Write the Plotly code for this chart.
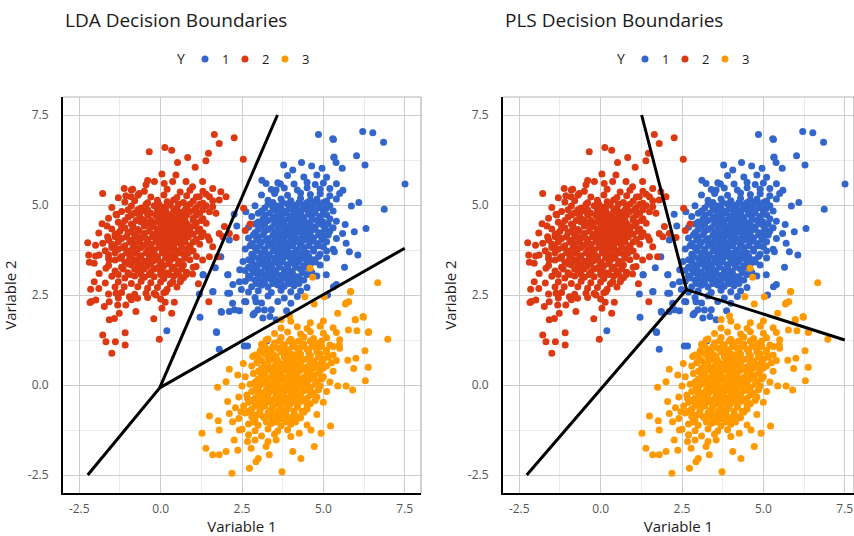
import plotly.graph_objects as go

# ---- observations: (Variable 1, Variable 2) for each class of Y ----
class1_pts = [
    (4.85, 6.96), (5.31, 6.82), (6.21, 7.04), (6.52, 7.01), (6.85, 6.74), (6.02, 6.37), (6.28, 6.11),
    (5.32, 6.32), (5.39, 6.18), (5.58, 6.02), (3.78, 6.11), (4.33, 6.18), (4.64, 6.08), (4.06, 5.97),
    (4.96, 6.02), (7.51, 5.58), (6.87, 4.88), (6.31, 4.35), (6.09, 5.07), (5.95, 4.26), (6.06, 3.61),
    (5.80, 3.70), (5.70, 3.94), (5.59, 4.21), (5.34, 3.70), (5.31, 2.73), (5.13, 2.50), (3.11, 5.69),
    (3.24, 5.60), (3.55, 5.42), (3.68, 5.58), (2.62, 4.81), (2.26, 4.74), (2.34, 4.42), (2.11, 4.03),
    (1.85, 3.56), (1.68, 3.26), (1.31, 3.06), (1.19, 2.53), (1.60, 2.59), (1.21, 1.88), (1.72, 1.46),
    (0.19, 1.51), (1.80, 0.99), (1.87, 2.02), (2.11, 2.04), (2.21, 2.27), (2.42, 2.06), (2.57, 1.08),
    (2.67, 1.08), (3.27, 1.23), (3.55, 1.81), (3.36, 1.90), (3.19, 2.08), (2.88, 1.99), (2.93, 2.31),
    (3.87, 2.06), (2.62, 2.31), (2.06, 2.55), (2.06, 3.06), (2.42, 2.87), (5.65, 3.27), (5.40, 2.79),
    (5.09, 3.06), (5.67, 4.46), (5.86, 4.97), (5.29, 6.84), (5.33, 6.33), (1.30, 3.06), (1.61, 2.60),
    (1.86, 2.04), (1.71, 1.48), (2.07, 3.06), (2.22, 2.79), (2.48, 2.65), (2.58, 2.32), (2.12, 2.55),
    (2.27, 2.09), (2.99, 2.09), (3.14, 1.86), (3.40, 2.09), (2.84, 1.95), (2.53, 3.43), (2.43, 3.20),
    (3.9, 5.82), (4.4, 5.78), (4.8, 5.83), (5.1, 5.77),
    (3.6, 5.62), (4.1, 5.58), (4.5, 5.63), (4.75, 5.57), (5.0, 5.61), (5.4, 5.59),
    (3.4, 5.43), (3.8, 5.47), (4.2, 5.42), (4.5, 5.48), (4.9, 5.44), (5.2, 5.46), (5.6, 5.41),
    (3.1, 5.28), (3.5, 5.32), (3.9, 5.27), (4.3, 5.33), (4.6, 5.29), (4.9, 5.31), (5.2, 5.26), (5.5, 5.32),
    (3.3, 5.13), (3.7, 5.17), (4.0, 5.12), (4.3, 5.18), (4.6, 5.14), (4.8, 5.16), (5.1, 5.11), (5.4, 5.17),
    (2.9, 4.98), (3.3, 5.02), (3.6, 4.97), (3.9, 5.03), (4.1, 4.99), (4.4, 5.01), (4.6, 4.96), (4.9, 5.02), (5.2, 4.98),
    (3.1, 4.83), (3.5, 4.87), (3.8, 4.82), (4.0, 4.88), (4.3, 4.84), (4.5, 4.86), (4.7, 4.81), (5.0, 4.87), (5.3, 4.83),
    (2.8, 4.68), (3.2, 4.72), (3.5, 4.67), (3.7, 4.73), (4.0, 4.69), (4.2, 4.71), (4.4, 4.66), (4.6, 4.72), (4.9, 4.68), (5.1, 4.73),
    (3.0, 4.53), (3.3, 4.57), (3.6, 4.52), (3.8, 4.58), (4.1, 4.54), (4.3, 4.56), (4.5, 4.51), (4.8, 4.57), (5.0, 4.53), (5.4, 4.55),
    (2.7, 4.38), (3.1, 4.42), (3.4, 4.37), (3.7, 4.43), (3.9, 4.39), (4.1, 4.41), (4.3, 4.36), (4.5, 4.42), (4.7, 4.38), (5.0, 4.43), (5.3, 4.37),
    (2.9, 4.23), (3.2, 4.27), (3.5, 4.22), (3.8, 4.28), (4.0, 4.24), (4.2, 4.26), (4.4, 4.21), (4.6, 4.27), (4.9, 4.23), (5.2, 4.28),
    (2.7, 4.08), (3.0, 4.12), (3.3, 4.07), (3.6, 4.13), (3.8, 4.09), (4.0, 4.11), (4.2, 4.06), (4.5, 4.12), (4.7, 4.08), (5.0, 4.13), (5.4, 4.07),
    (2.8, 3.93), (3.1, 3.97), (3.4, 3.92), (3.7, 3.98), (3.9, 3.94), (4.1, 3.96), (4.3, 3.91), (4.6, 3.97), (4.8, 3.93), (5.1, 3.98),
    (2.6, 3.78), (2.9, 3.82), (3.2, 3.77), (3.5, 3.83), (3.7, 3.79), (3.9, 3.81), (4.2, 3.76), (4.4, 3.82), (4.7, 3.78), (5.0, 3.83), (5.3, 3.77),
    (2.8, 3.63), (3.1, 3.67), (3.3, 3.62), (3.6, 3.68), (3.8, 3.64), (4.0, 3.66), (4.3, 3.61), (4.5, 3.67), (4.9, 3.63),
    (2.7, 3.48), (3.0, 3.52), (3.2, 3.47), (3.5, 3.53), (3.7, 3.49), (4.0, 3.51), (4.2, 3.46), (4.4, 3.52), (4.7, 3.48), (5.1, 3.53),
    (2.9, 3.33), (3.1, 3.37), (3.4, 3.32), (3.6, 3.38), (3.9, 3.34), (4.1, 3.36), (4.4, 3.31), (4.6, 3.37), (4.9, 3.33),
    (2.6, 3.18), (2.8, 3.22), (3.0, 3.17), (3.3, 3.23), (3.5, 3.19), (3.8, 3.21), (4.0, 3.16), (4.3, 3.22), (4.6, 3.18),
    (2.7, 3.03), (3.0, 3.07), (3.2, 3.02), (3.4, 3.08), (3.7, 3.04), (3.9, 3.06), (4.2, 3.01), (4.5, 3.07), (4.8, 3.03),
    (2.6, 2.88), (2.9, 2.92), (3.1, 2.87), (3.4, 2.93), (3.6, 2.89), (3.9, 2.91), (4.1, 2.86), (4.4, 2.92),
    (2.8, 2.73), (3.1, 2.77), (3.3, 2.72), (3.6, 2.78), (3.8, 2.74), (4.1, 2.76), (4.5, 2.71),
    (2.7, 2.58), (3.0, 2.62), (3.4, 2.57), (3.7, 2.63), (4.0, 2.59), (4.3, 2.61),
    (2.9, 2.43), (3.3, 2.47), (3.8, 2.42), (4.2, 2.46),
    (3.1, 2.28), (3.6, 2.32), (4.0, 2.27),
]
# crowded centre of class 1, row by row: (Variable 2, [Variable 1 ...])
class1_rows = [
    (5.07, [3.45, 3.75, 4.0, 4.25, 4.5, 4.75, 5.0]),
    (4.92, [3.2, 3.45, 3.7, 3.95, 4.2, 4.4, 4.65, 4.85, 5.1]),
    (4.77, [3.0, 3.35, 3.6, 3.85, 4.1, 4.3, 4.55, 4.75, 5.0]),
    (4.62, [3.15, 3.45, 3.7, 3.95, 4.2, 4.4, 4.65, 4.9, 5.2]),
    (4.47, [2.9, 3.2, 3.5, 3.8, 4.0, 4.2, 4.4, 4.6, 4.85, 5.15]),
    (4.32, [3.0, 3.3, 3.6, 3.85, 4.1, 4.3, 4.5, 4.75, 5.05]),
    (4.17, [2.85, 3.15, 3.45, 3.7, 3.9, 4.1, 4.35, 4.6, 4.85, 5.15]),
    (4.02, [2.95, 3.25, 3.5, 3.75, 4.0, 4.2, 4.4, 4.65, 4.95]),
    (3.87, [2.75, 3.05, 3.3, 3.6, 3.8, 4.05, 4.3, 4.55, 4.85]),
    (3.72, [2.95, 3.2, 3.45, 3.7, 3.9, 4.15, 4.4, 4.7, 5.1]),
    (3.57, [2.85, 3.1, 3.35, 3.6, 3.85, 4.1, 4.3, 4.55, 4.85]),
    (3.42, [2.8, 3.05, 3.3, 3.5, 3.75, 4.0, 4.25, 4.5, 4.75]),
    (3.27, [2.7, 2.95, 3.2, 3.4, 3.65, 3.9, 4.15, 4.45]),
    (3.12, [2.85, 3.1, 3.3, 3.55, 3.8, 4.05, 4.35, 4.65]),
    (2.97, [2.75, 3.0, 3.25, 3.5, 3.75, 4.0, 4.25]),
    (2.82, [2.95, 3.2, 3.45, 3.7, 3.95, 4.25]),
]

class2_pts = [
    (1.65, 6.96), (2.26, 6.87), (1.80, 6.71), (-0.35, 6.48), (0.13, 6.60), (0.34, 6.52), (1.47, 6.44),
    (2.54, 6.27), (0.83, 6.32), (0.52, 6.18), (1.39, 6.23), (1.06, 6.05), (0.04, 5.86), (0.47, 5.83),
    (-1.78, 5.32), (-0.40, 5.68), (-0.86, 5.44), (-1.07, 5.26), (-1.37, 4.74), (-2.24, 3.95), (-2.21, 3.61),
    (-2.19, 3.41), (-2.15, 2.66), (-2.17, 2.29), (-1.99, 2.36), (-1.78, 1.39), (-1.68, 1.20), (-1.50, 0.88),
    (-1.39, 1.20), (-1.09, 1.45), (-1.09, 1.11), (-0.04, 1.27), (-0.21, 1.84), (-0.76, 2.04), (0.14, 2.30),
    (0.42, 2.30), (0.04, 2.13), (0.34, 1.99), (1.48, 2.31), (1.16, 2.81), (0.98, 3.08), (1.91, 4.12),
    (2.55, 4.91), (2.60, 4.29), (2.75, 4.47), (2.11, 4.21), (2.32, 4.10), (1.60, 3.84), (1.75, 3.56),
    (-1.89, 3.61), (-2.04, 3.38), (-1.89, 3.10), (-2.04, 2.87), (-1.68, 3.24), (-1.58, 3.47), (-1.63, 4.12),
    (-1.32, 4.21), (-1.42, 3.84), (-1.78, 3.94), (-1.58, 2.31), (-1.73, 2.18), (-1.37, 2.55), (-1.42, 1.85),
    (-1.58, 1.81), (-1.27, 1.99), (-1.07, 2.22), (-1.32, 2.22), (-2.13, 2.32),
    (-1.12, 5.46), (-0.91, 5.23), (-0.66, 5.32), (-0.45, 5.56), (-0.19, 5.65), (0.11, 5.60), (0.37, 5.65),
    (0.78, 5.65), (0.98, 5.51), (1.29, 5.65), (1.60, 5.46), (1.85, 5.37), (2.01, 5.23), (1.50, 5.23),
    (1.19, 5.23), (1.80, 5.14), (1.70, 4.77), (1.60, 4.95), (1.96, 4.40), (1.80, 4.21), (1.45, 4.12),
    (1.50, 3.56), (1.29, 3.47), (1.09, 3.29), (0.78, 3.06), (0.62, 2.92), (0.37, 2.87), (0.16, 2.59),
    (-0.14, 2.50), (-0.45, 2.55), (-0.71, 2.41), (-0.96, 2.45), (-1.12, 2.73),
    (-0.9, 5.42), (-0.5, 5.38), (0.2, 5.44), (0.6, 5.36), (0.9, 5.41), (1.3, 5.38),
    (-1.3, 5.2), (-0.7, 5.27), (-0.3, 5.22), (0.1, 5.28), (0.5, 5.21), (0.8, 5.26), (1.1, 5.22), (1.4, 5.3),
    (-1.1, 5.08), (-0.8, 5.12), (-0.4, 5.06), (-0.1, 5.13), (0.2, 5.09), (0.4, 5.14), (0.7, 5.07), (1.0, 5.11), (1.3, 5.05), (1.6, 5.12),
    (-1.5, 4.93), (-0.9, 4.97), (-0.6, 4.92), (-0.2, 4.98), (0.1, 4.94), (0.3, 4.99), (0.5, 4.92), (0.8, 4.96), (1.1, 4.93), (1.4, 4.98),
    (-1.2, 4.82), (-0.8, 4.78), (-0.5, 4.83), (-0.3, 4.77), (0.0, 4.81), (0.2, 4.76), (0.4, 4.84), (0.6, 4.79), (0.9, 4.82), (1.2, 4.77), (1.5, 4.81),
    (-1.6, 4.63), (-1.0, 4.67), (-0.6, 4.62), (-0.1, 4.68), (0.1, 4.63), (0.3, 4.66), (0.5, 4.61), (0.7, 4.68), (1.0, 4.64), (1.3, 4.62),
    (-1.8, 4.48), (-1.3, 4.52), (-0.9, 4.47), (-0.6, 4.53), (-0.4, 4.49), (-0.2, 4.51), (0.0, 4.46), (0.2, 4.53), (0.4, 4.48), (0.6, 4.52), (0.8, 4.47), (1.1, 4.51), (1.4, 4.49),
    (-1.5, 4.33), (-1.1, 4.37), (-0.7, 4.32), (-0.3, 4.38), (-0.1, 4.33), (0.1, 4.36), (0.3, 4.31), (0.5, 4.37), (0.7, 4.34), (0.9, 4.38), (1.2, 4.33),
    (-1.9, 4.22), (-1.4, 4.18), (-1.0, 4.23), (-0.8, 4.17), (-0.5, 4.21), (-0.2, 4.19), (0.0, 4.24), (0.2, 4.18), (0.4, 4.22), (0.6, 4.17), (0.8, 4.21), (1.0, 4.19), (1.3, 4.23),
    (-1.6, 4.03), (-1.2, 4.07), (-0.9, 4.02), (-0.6, 4.08), (-0.4, 4.04), (-0.1, 4.06), (0.1, 4.01), (0.3, 4.07), (0.5, 4.03), (0.7, 4.08), (1.1, 4.04), (1.5, 4.02),
    (-2.0, 3.88), (-1.5, 3.92), (-1.1, 3.87), (-0.8, 3.93), (-0.5, 3.89), (-0.3, 3.91), (0.0, 3.86), (0.2, 3.92), (0.4, 3.88), (0.6, 3.93), (0.9, 3.87), (1.2, 3.91),
    (-1.7, 3.73), (-1.3, 3.77), (-1.0, 3.72), (-0.7, 3.78), (-0.4, 3.74), (-0.2, 3.76), (0.1, 3.71), (0.3, 3.77), (0.5, 3.73), (0.8, 3.78), (1.0, 3.72),
    (-2.0, 3.58), (-1.6, 3.62), (-1.2, 3.57), (-0.9, 3.63), (-0.6, 3.59), (-0.3, 3.61), (-0.1, 3.56), (0.2, 3.62), (0.4, 3.58), (0.7, 3.63), (1.1, 3.57),
    (-1.4, 3.47), (-1.1, 3.42), (-0.8, 3.48), (-0.5, 3.44), (-0.2, 3.46), (0.0, 3.41), (0.3, 3.47), (0.6, 3.43), (0.9, 3.48),
    (-1.6, 3.32), (-1.2, 3.27), (-0.9, 3.33), (-0.6, 3.29), (-0.4, 3.31), (-0.1, 3.26), (0.1, 3.32), (0.4, 3.28), (0.7, 3.33), (1.0, 3.27),
    (-1.4, 3.17), (-1.0, 3.12), (-0.7, 3.18), (-0.3, 3.14), (0.0, 3.16), (0.2, 3.11), (0.5, 3.17), (0.8, 3.13),
    (-1.5, 3.02), (-1.1, 2.97), (-0.8, 3.03), (-0.5, 2.99), (-0.2, 3.01), (0.1, 2.96), (0.4, 3.02), (0.7, 2.98),
    (-1.7, 2.83), (-1.3, 2.87), (-0.9, 2.82), (-0.6, 2.88), (-0.3, 2.84), (0.0, 2.86), (0.3, 2.81), (0.6, 2.87),
    (-1.9, 2.68), (-1.4, 2.72), (-0.7, 2.73), (-0.4, 2.69), (-0.1, 2.71), (0.2, 2.66), (0.5, 2.72),
    (-1.6, 2.53), (-1.2, 2.57), (-0.8, 2.52), (-0.2, 2.54), (0.1, 2.56),
    (-1.3, 2.42), (-0.9, 2.37), (-0.4, 2.43), (0.0, 2.39),
]
class2_rows = [
    (5.02, [-0.45, -0.05, 0.25, 0.55, 0.9, 1.2]),
    (4.87, [-1.0, -0.7, -0.4, -0.1, 0.15, 0.45, 0.75, 1.05, 1.3]),
    (4.72, [-1.35, -0.9, -0.65, -0.4, -0.15, 0.1, 0.35, 0.55, 0.8, 1.1]),
    (4.57, [-1.1, -0.75, -0.5, -0.3, -0.05, 0.15, 0.35, 0.55, 0.75, 1.0, 1.25]),
    (4.42, [-1.65, -1.2, -0.85, -0.5, -0.25, 0.05, 0.25, 0.45, 0.65, 0.85, 1.05]),
    (4.27, [-1.25, -0.9, -0.65, -0.35, -0.1, 0.1, 0.3, 0.5, 0.7, 0.9, 1.15]),
    (4.12, [-1.4, -1.05, -0.75, -0.5, -0.25, 0.0, 0.2, 0.4, 0.6, 0.85, 1.25]),
    (3.97, [-1.3, -0.95, -0.65, -0.4, -0.15, 0.05, 0.3, 0.5, 0.75, 1.0]),
    (3.82, [-1.5, -1.15, -0.85, -0.6, -0.3, -0.05, 0.2, 0.4, 0.65, 0.9]),
    (3.67, [-1.4, -1.05, -0.75, -0.45, -0.2, 0.05, 0.3, 0.55, 0.85]),
    (3.52, [-1.6, -1.25, -0.95, -0.65, -0.35, -0.1, 0.15, 0.45, 0.75]),
    (3.37, [-1.0, -0.7, -0.3, 0.0, 0.25, 0.55]),
    (3.22, [-1.15, -0.8, -0.5, -0.2, 0.05, 0.35, 0.65]),
    (3.07, [-1.3, -0.95, -0.6, -0.35, 0.0, 0.25, 0.55]),
]

class3_pts = [
    (3.73, -2.41), (2.19, -2.45), (2.73, -2.31), (2.93, -2.13), (3.00, -2.04), (4.31, -2.04), (4.06, -1.85),
    (4.72, -1.71), (1.39, -1.76), (1.60, -1.94), (1.80, -1.94), (2.01, -1.85), (1.27, -1.34), (1.80, -1.25),
    (1.50, -0.86), (1.77, -0.99), (1.75, -0.06), (2.01, 0.09), (2.06, -0.46), (2.11, 0.44), (2.37, 0.28),
    (2.54, 0.60), (2.83, 0.79), (3.08, 0.97), (3.24, 1.25), (3.70, 1.82), (3.96, 1.92), (4.43, 2.45),
    (4.72, 2.25), (5.03, 2.45), (4.59, 3.24), (4.67, 2.99), (5.83, 2.59), (5.78, 2.31), (5.68, 2.25),
    (5.44, 1.99), (6.23, 1.88), (6.67, 2.84), (6.98, 1.27), (6.38, 1.46), (5.98, 1.81), (5.77, 1.53),
    (6.03, 1.51), (6.28, 0.95), (6.38, 0.49), (6.29, 0.12), (5.90, -0.14), (5.70, -0.03), (5.44, -0.03),
    (5.93, 0.46), (5.75, 0.69), (6.00, 0.74), (5.49, 1.11), (5.22, -1.14), (4.93, -1.34), (4.62, -1.25),
    (4.26, -1.34), (3.55, -1.53), (3.24, -1.71), (3.34, -1.94), (2.78, -1.76), (2.37, -1.81), (2.26, -1.53),
    (2.67, -1.57), (2.42, -1.25), (2.11, -0.79), (2.21, -1.02), (2.47, -0.74), (2.85, -0.83), (2.67, -0.37),
    (2.93, -0.05), (6.22, 1.90), (6.39, 1.48), (5.84, 2.60), (5.70, 2.28), (5.98, 1.81),
    (4.0, 1.77), (4.6, 1.73), (5.0, 1.78),
    (3.7, 1.58), (4.2, 1.62), (4.5, 1.57), (4.9, 1.63), (5.3, 1.59),
    (3.5, 1.43), (3.9, 1.47), (4.3, 1.42), (4.6, 1.48), (5.0, 1.44), (5.4, 1.46),
    (3.3, 1.28), (3.7, 1.32), (4.0, 1.27), (4.4, 1.33), (4.7, 1.29), (5.1, 1.31), (5.5, 1.26),
    (3.1, 1.13), (3.5, 1.17), (3.8, 1.12), (4.1, 1.18), (4.4, 1.14), (4.8, 1.16), (5.2, 1.11),
    (3.3, 0.98), (3.6, 1.02), (3.9, 0.97), (4.2, 1.03), (4.5, 0.99), (4.8, 1.01), (5.1, 0.96), (5.5, 1.02),
    (2.9, 0.83), (3.2, 0.87), (3.5, 0.82), (3.8, 0.88), (4.1, 0.84), (4.3, 0.86), (4.6, 0.81), (4.9, 0.87), (5.3, 0.83),
    (3.1, 0.68), (3.4, 0.72), (3.6, 0.67), (3.9, 0.73), (4.1, 0.69), (4.4, 0.71), (4.7, 0.66), (5.0, 0.72), (5.4, 0.68),
    (2.8, 0.53), (3.2, 0.57), (3.5, 0.52), (3.7, 0.58), (4.0, 0.54), (4.2, 0.56), (4.5, 0.51), (4.8, 0.57), (5.1, 0.53),
    (3.0, 0.38), (3.3, 0.42), (3.5, 0.37), (3.8, 0.43), (4.0, 0.39), (4.3, 0.41), (4.6, 0.36), (4.9, 0.42), (5.3, 0.38),
    (2.6, 0.23), (3.1, 0.27), (3.4, 0.22), (3.6, 0.28), (3.9, 0.24), (4.1, 0.26), (4.4, 0.21), (4.7, 0.27), (5.0, 0.23),
    (2.9, 0.08), (3.2, 0.12), (3.5, 0.07), (3.7, 0.13), (3.9, 0.09), (4.2, 0.11), (4.5, 0.06), (4.8, 0.12), (5.2, 0.08),
    (2.5, -0.03), (3.0, -0.07), (3.3, -0.02), (3.5, -0.08), (3.8, -0.04), (4.0, -0.06), (4.3, -0.01), (4.6, -0.07), (4.9, -0.03),
    (2.8, -0.18), (3.1, -0.22), (3.4, -0.17), (3.6, -0.23), (3.8, -0.19), (4.1, -0.21), (4.4, -0.16), (4.7, -0.22), (5.1, -0.18),
    (2.4, -0.33), (2.9, -0.37), (3.2, -0.32), (3.5, -0.38), (3.7, -0.34), (3.9, -0.36), (4.2, -0.31), (4.5, -0.37), (4.8, -0.33),
    (2.7, -0.48), (3.0, -0.52), (3.3, -0.47), (3.6, -0.53), (3.8, -0.49), (4.0, -0.51), (4.3, -0.46), (4.6, -0.52), (5.0, -0.48),
    (2.3, -0.63), (2.8, -0.67), (3.1, -0.62), (3.4, -0.68), (3.7, -0.64), (3.9, -0.66), (4.2, -0.61), (4.5, -0.67),
    (2.6, -0.78), (3.0, -0.82), (3.3, -0.77), (3.5, -0.83), (3.8, -0.79), (4.1, -0.81), (4.4, -0.76), (4.8, -0.82),
    (2.4, -0.93), (2.9, -0.97), (3.2, -0.92), (3.5, -0.98), (3.7, -0.94), (4.0, -0.96), (4.3, -0.91),
    (2.7, -1.08), (3.0, -1.12), (3.4, -1.07), (3.7, -1.13), (4.0, -1.09), (4.5, -1.11),
    (2.5, -1.23), (2.9, -1.27), (3.3, -1.22), (3.6, -1.28), (3.9, -1.24),
    (2.7, -1.38), (3.1, -1.42), (3.5, -1.37), (4.0, -1.43),
    (2.9, -1.53), (3.3, -1.57),
]
class3_rows = [
    (1.22, [3.65, 3.95, 4.25, 4.6, 4.95]),
    (1.07, [3.2, 3.45, 3.75, 4.05, 4.35, 4.65, 4.95, 5.3]),
    (0.92, [3.05, 3.4, 3.7, 3.95, 4.25, 4.55, 4.8, 5.1]),
    (0.77, [3.0, 3.3, 3.55, 3.8, 4.0, 4.25, 4.55, 4.85, 5.15]),
    (0.62, [2.95, 3.3, 3.55, 3.85, 4.05, 4.3, 4.6, 4.95, 5.25]),
    (0.47, [3.1, 3.4, 3.6, 3.9, 4.1, 4.4, 4.7, 5.0]),
    (0.32, [2.85, 3.2, 3.45, 3.7, 3.95, 4.2, 4.5, 4.85]),
    (0.17, [3.0, 3.3, 3.55, 3.8, 4.05, 4.3, 4.6, 4.95]),
    (0.02, [2.75, 3.1, 3.4, 3.6, 3.85, 4.1, 4.4, 4.75]),
    (-0.13, [2.95, 3.25, 3.5, 3.7, 3.95, 4.2, 4.5, 4.85]),
    (-0.28, [2.65, 3.0, 3.3, 3.55, 3.75, 4.0, 4.3, 4.6]),
    (-0.43, [2.8, 3.1, 3.4, 3.65, 3.85, 4.1, 4.4, 4.75]),
    (-0.58, [2.55, 2.9, 3.2, 3.45, 3.7, 3.95, 4.2, 4.5]),
    (-0.73, [2.7, 3.05, 3.35, 3.6, 3.85, 4.1, 4.35]),
    (-0.88, [2.8, 3.15, 3.4, 3.65, 3.9, 4.2]),
    (-1.03, [2.85, 3.25, 3.55, 3.85, 4.15]),
]

class_labels = ["1", "2", "3"]
class_colors = ["#3366CC", "#DC3912", "#FF9900"]


def collect(pts, rows):
    xs = [p[0] for p in pts]
    ys = [p[1] for p in pts]
    for yv, row_xs in rows:
        xs.extend(row_xs)
        ys.extend([yv] * len(row_xs))
    return xs, ys


class_xy = [collect(class1_pts, class1_rows),
            collect(class2_pts, class2_rows),
            collect(class3_pts, class3_rows)]

# ---- decision boundaries (three rays meeting at one point) ----
lda_boundary_x = [-2.24, -0.03, 3.59, None, -0.03, 7.5]
lda_boundary_y = [-2.5, -0.08, 7.5, None, -0.08, 3.8]
pls_boundary_x = [-2.27, 2.64, 1.26, None, 2.64, 7.5]
pls_boundary_y = [-2.5, 2.65, 7.5, None, 2.65, 1.25]

tick_vals = [-2.5, 0.0, 2.5, 5.0, 7.5]
tick_text = ["-2.5", "0.0", "2.5", "5.0", "7.5"]

FONT = "Open Sans"
W, H = 854, 536
TEXT = "#1a1a1a"

fig = go.Figure()

panels = [
    ("x", "y", lda_boundary_x, lda_boundary_y),
    ("x2", "y2", pls_boundary_x, pls_boundary_y),
]
for xa, ya, bx, by in panels:
    for label, color, (xs, ys) in zip(class_labels, class_colors, class_xy):
        fig.add_trace(go.Scatter(
            x=xs, y=ys, mode="markers", name=label, showlegend=False,
            marker=dict(color=color, size=7, line=dict(width=0)),
            xaxis=xa, yaxis=ya,
        ))
    fig.add_trace(go.Scatter(
        x=bx, y=by, mode="lines", showlegend=False,
        line=dict(color="black", width=3),
        xaxis=xa, yaxis=ya,
    ))

y_dom = [1 - 493 / H, 1 - 97 / H]
x1_dom = [63 / W, 421 / W]
x2_dom = [503 / W, 1.0]
unit_px = (421 - 63) / 11.0


def x_axis(domain, rng, anchor):
    return dict(
        domain=domain, range=rng, anchor=anchor,
        tickvals=tick_vals, ticktext=tick_text,
        showgrid=True, gridcolor="#cccccc", gridwidth=1.4,
        minor=dict(dtick=1.25, tick0=0, showgrid=True, gridcolor="#ebebeb", gridwidth=1),
        zeroline=False, showline=True, linecolor="black", linewidth=2,
        ticks="", ticklabelstandoff=4,
        tickfont=dict(family=FONT, size=12, color="#555555"),
        title=dict(text="Variable 1", standoff=9, font=dict(family=FONT, size=15, color=TEXT)),
    )


def y_axis(domain, anchor):
    return dict(
        domain=domain, range=[-3, 8], anchor=anchor,
        tickvals=tick_vals, ticktext=tick_text,
        showgrid=True, gridcolor="#cccccc", gridwidth=1.4,
        minor=dict(dtick=1.25, tick0=0, showgrid=True, gridcolor="#ebebeb", gridwidth=1),
        zeroline=False, showline=True, linecolor="black", linewidth=2,
        ticks="", ticklabelstandoff=10,
        tickfont=dict(family=FONT, size=12, color="#555555"),
        title=dict(text="Variable 2", standoff=8, font=dict(family=FONT, size=15, color=TEXT)),
    )


shapes = []
annotations = []

# thin light frame on the top and right of each panel
for x0, x1 in [(x1_dom[0], x1_dom[1]), (x2_dom[0], x2_dom[1])]:
    shapes.append(dict(type="line", xref="paper", yref="paper", x0=x0, x1=x1,
                       y0=y_dom[1], y1=y_dom[1], line=dict(color="#b3b3b3", width=1.2)))
    shapes.append(dict(type="line", xref="paper", yref="paper", x0=x1, x1=x1,
                       y0=y_dom[0], y1=y_dom[1], line=dict(color="#b3b3b3", width=1.2)))

# panel titles
for title, x_left in [("LDA Decision Boundaries", x1_dom[0]), ("PLS Decision Boundaries", x2_dom[0])]:
    annotations.append(dict(text=title, x=x_left, y=1 - 20 / H, xref="paper", yref="paper",
                            xanchor="left", yanchor="middle", showarrow=False,
                            font=dict(family=FONT, size=19, color=TEXT)))

# key for Y above each panel
legend_y = 1 - 59 / H
for centre_px in [242, 682]:
    annotations.append(dict(text="Y", x=(centre_px - 61) / W, y=legend_y, xref="paper", yref="paper",
                            xanchor="center", yanchor="middle", showarrow=False,
                            font=dict(family=FONT, size=14, color=TEXT)))
    for i, (label, color) in enumerate(zip(class_labels, class_colors)):
        dot_px = centre_px - 37 + 40 * i
        shapes.append(dict(type="circle", xref="paper", yref="paper",
                           xsizemode="pixel", ysizemode="pixel",
                           xanchor=dot_px / W, yanchor=legend_y,
                           x0=-3.5, x1=3.5, y0=-3.5, y1=3.5,
                           fillcolor=color, line=dict(width=0)))
        annotations.append(dict(text=label, x=(dot_px + 20) / W, y=legend_y,
                                xref="paper", yref="paper",
                                xanchor="center", yanchor="middle", showarrow=False,
                                font=dict(family=FONT, size=13, color=TEXT)))

fig.update_layout(
    width=W, height=H,
    margin=dict(l=0, r=0, t=0, b=0),
    paper_bgcolor="white", plot_bgcolor="white",
    font=dict(family=FONT),
    showlegend=False,
    xaxis=x_axis(x1_dom, [-3, 8], "y"),
    yaxis=y_axis(y_dom, "x"),
    xaxis2=x_axis(x2_dom, [-3, -3 + (W - 503) / unit_px], "y2"),
    yaxis2=y_axis(y_dom, "x2"),
    shapes=shapes,
    annotations=annotations,
)

fig.write_html("out.html")
